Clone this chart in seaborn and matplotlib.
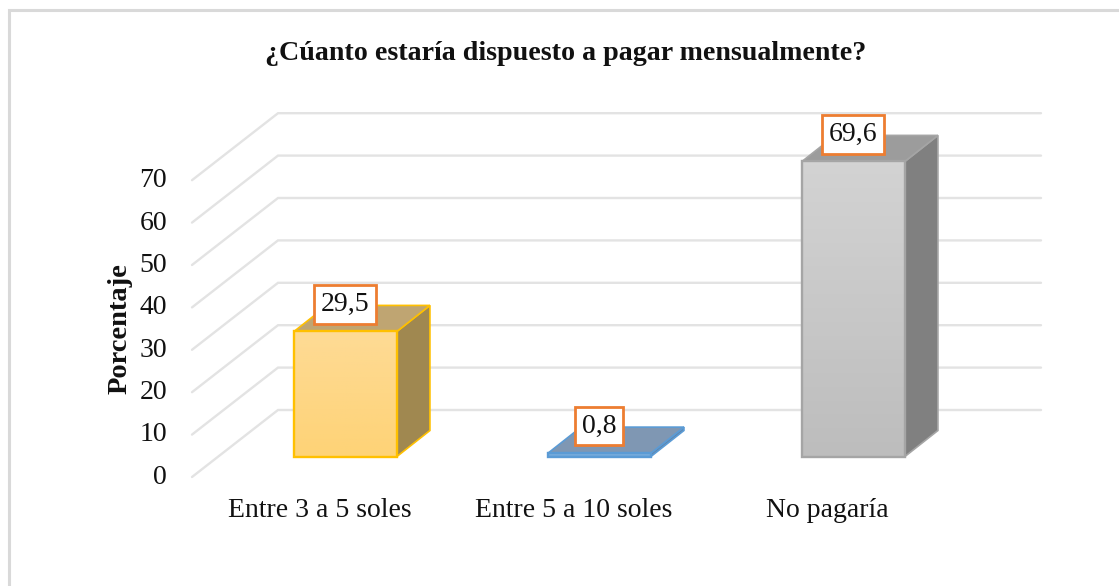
import numpy as np
import pandas as pd
import seaborn as sns
import matplotlib.pyplot as plt
from matplotlib.patches import Polygon
from matplotlib.colors import LinearSegmentedColormap

# datos
categorias = ["Entre 3 a 5 soles", "Entre 5 a 10 soles", "No pagaría"]
porcentajes = [29.5, 0.8, 69.6]
etiquetas = ["29,5", "0,8", "69,6"]
ticks_y = [0, 10, 20, 30, 40, 50, 60, 70]

# colores: borde, frente arriba, frente abajo, lado, tapa
borde = ["#FFC000", "#5B9BD5", "#A5A5A5"]
frente_sup = ["#FEDB95", "#8DB9E2", "#D3D3D3"]
frente_inf = ["#FED377", "#6FA6DA", "#BDBDBD"]
lado = ["#A08850", "#5F85AC", "#808080"]
tapa = ["#BFA572", "#7F97B3", "#9C9C9C"]

W, H = 1119, 586
sns.set_style("white")
plt.rcParams['font.family'] = ['Liberation Serif', 'DejaVu Serif']

fig = plt.figure(figsize=(W / 100, H / 100), dpi=100)

# eje del plano frontal de las barras (pixeles: x 218.5-980.5, y=0 en 456.5, escala 4.24 px/unidad)
izq, der, base, arriba = 218.5, 980.5, 456.5, 117.3
ax = fig.add_axes([izq / W, 1 - base / H, (der - izq) / W, (base - arriba) / H])

df = pd.DataFrame({"categoria": categorias, "porcentaje": porcentajes})
sns.barplot(data=df, x="categoria", y="porcentaje", hue="categoria", palette=frente_inf,
            width=0.405, legend=False, ax=ax, zorder=5)
ax.axis("off")

# capa en pixeles para paredes y marco
fondo = fig.add_axes([0, 0, 1, 1], zorder=-1)
fondo.set_xlim(0, W)
fondo.set_ylim(H, 0)
fondo.axis("off")
fondo.plot([9, 9, W], [H, 10, 10], color="#D9D9D9", lw=2.2, solid_joinstyle="miter")

# paredes: lateral y fondo
for t in ticks_y:
    y_frente = 477 - t * 4.24
    y_fondo = 410 - t * 4.24
    fondo.plot([192, 278, 1041], [y_frente, y_fondo, y_fondo], color="#E3E3E3", lw=1.7,
               solid_joinstyle="miter")
    fig.text(167 / W, 1 - (477 - t * 4.23) / H, str(t), fontsize=20, ha="right", va="center",
             color="#111111")

# caras 3D a partir de las barras de seaborn
prof_x, prof_y = 33 / 254, 26 / 4.24
for i, barra in enumerate(ax.patches):
    x0, ancho, alto = barra.get_x(), barra.get_width(), barra.get_height()
    x1 = x0 + ancho
    barra.set_facecolor("none")
    barra.set_clip_on(False)
    mapa = LinearSegmentedColormap.from_list("g", [frente_inf[i], frente_sup[i]])
    ax.imshow(np.linspace(0, 1, 64).reshape(-1, 1), cmap=mapa, origin="lower", aspect="auto",
              extent=(x0, x1, 0, alto), zorder=4)
    barra.set_edgecolor(borde[i])
    barra.set_linewidth(1.7)
    ax.add_patch(Polygon([(x1, 0), (x1 + prof_x, prof_y), (x1 + prof_x, alto + prof_y), (x1, alto)],
                         fc=lado[i], ec=borde[i], lw=1.2, zorder=3, clip_on=False))
    ax.add_patch(Polygon([(x0, alto), (x0 + prof_x, alto + prof_y), (x1 + prof_x, alto + prof_y), (x1, alto)],
                         fc=tapa[i], ec=borde[i], lw=1.2, zorder=3, clip_on=False))
    # etiqueta de valor
    ax.annotate(etiquetas[i], (x0 + ancho / 2, alto), xytext=(-0.5, 27),
                textcoords="offset pixels", ha="center", va="center", fontsize=20, zorder=8,
                color="#111111", annotation_clip=False,
                bbox=dict(boxstyle="square,pad=0.24", fc="white", ec="#ED7D31", lw=2))
    # etiqueta de categoria
    ax.annotate(categorias[i], (x0 + ancho / 2, 0), xytext=(-26, -54),
                textcoords="offset pixels", ha="center", va="center", fontsize=20,
                color="#111111", annotation_clip=False)

ax.set_xlim(-0.5, 2.5)
ax.set_ylim(0, 80)

fig.text(566 / W, 1 - 53 / H, "¿Cúanto estaría dispuesto a pagar mensualmente?", fontsize=20.2,
         fontweight="bold", ha="center", va="center", color="#111111")
fig.text(120 / W, 1 - 329 / H, "Porcentaje", fontsize=20.5, fontweight="bold", rotation=90,
         ha="center", va="center", color="#111111")

fig.savefig("out.png", dpi=100)
